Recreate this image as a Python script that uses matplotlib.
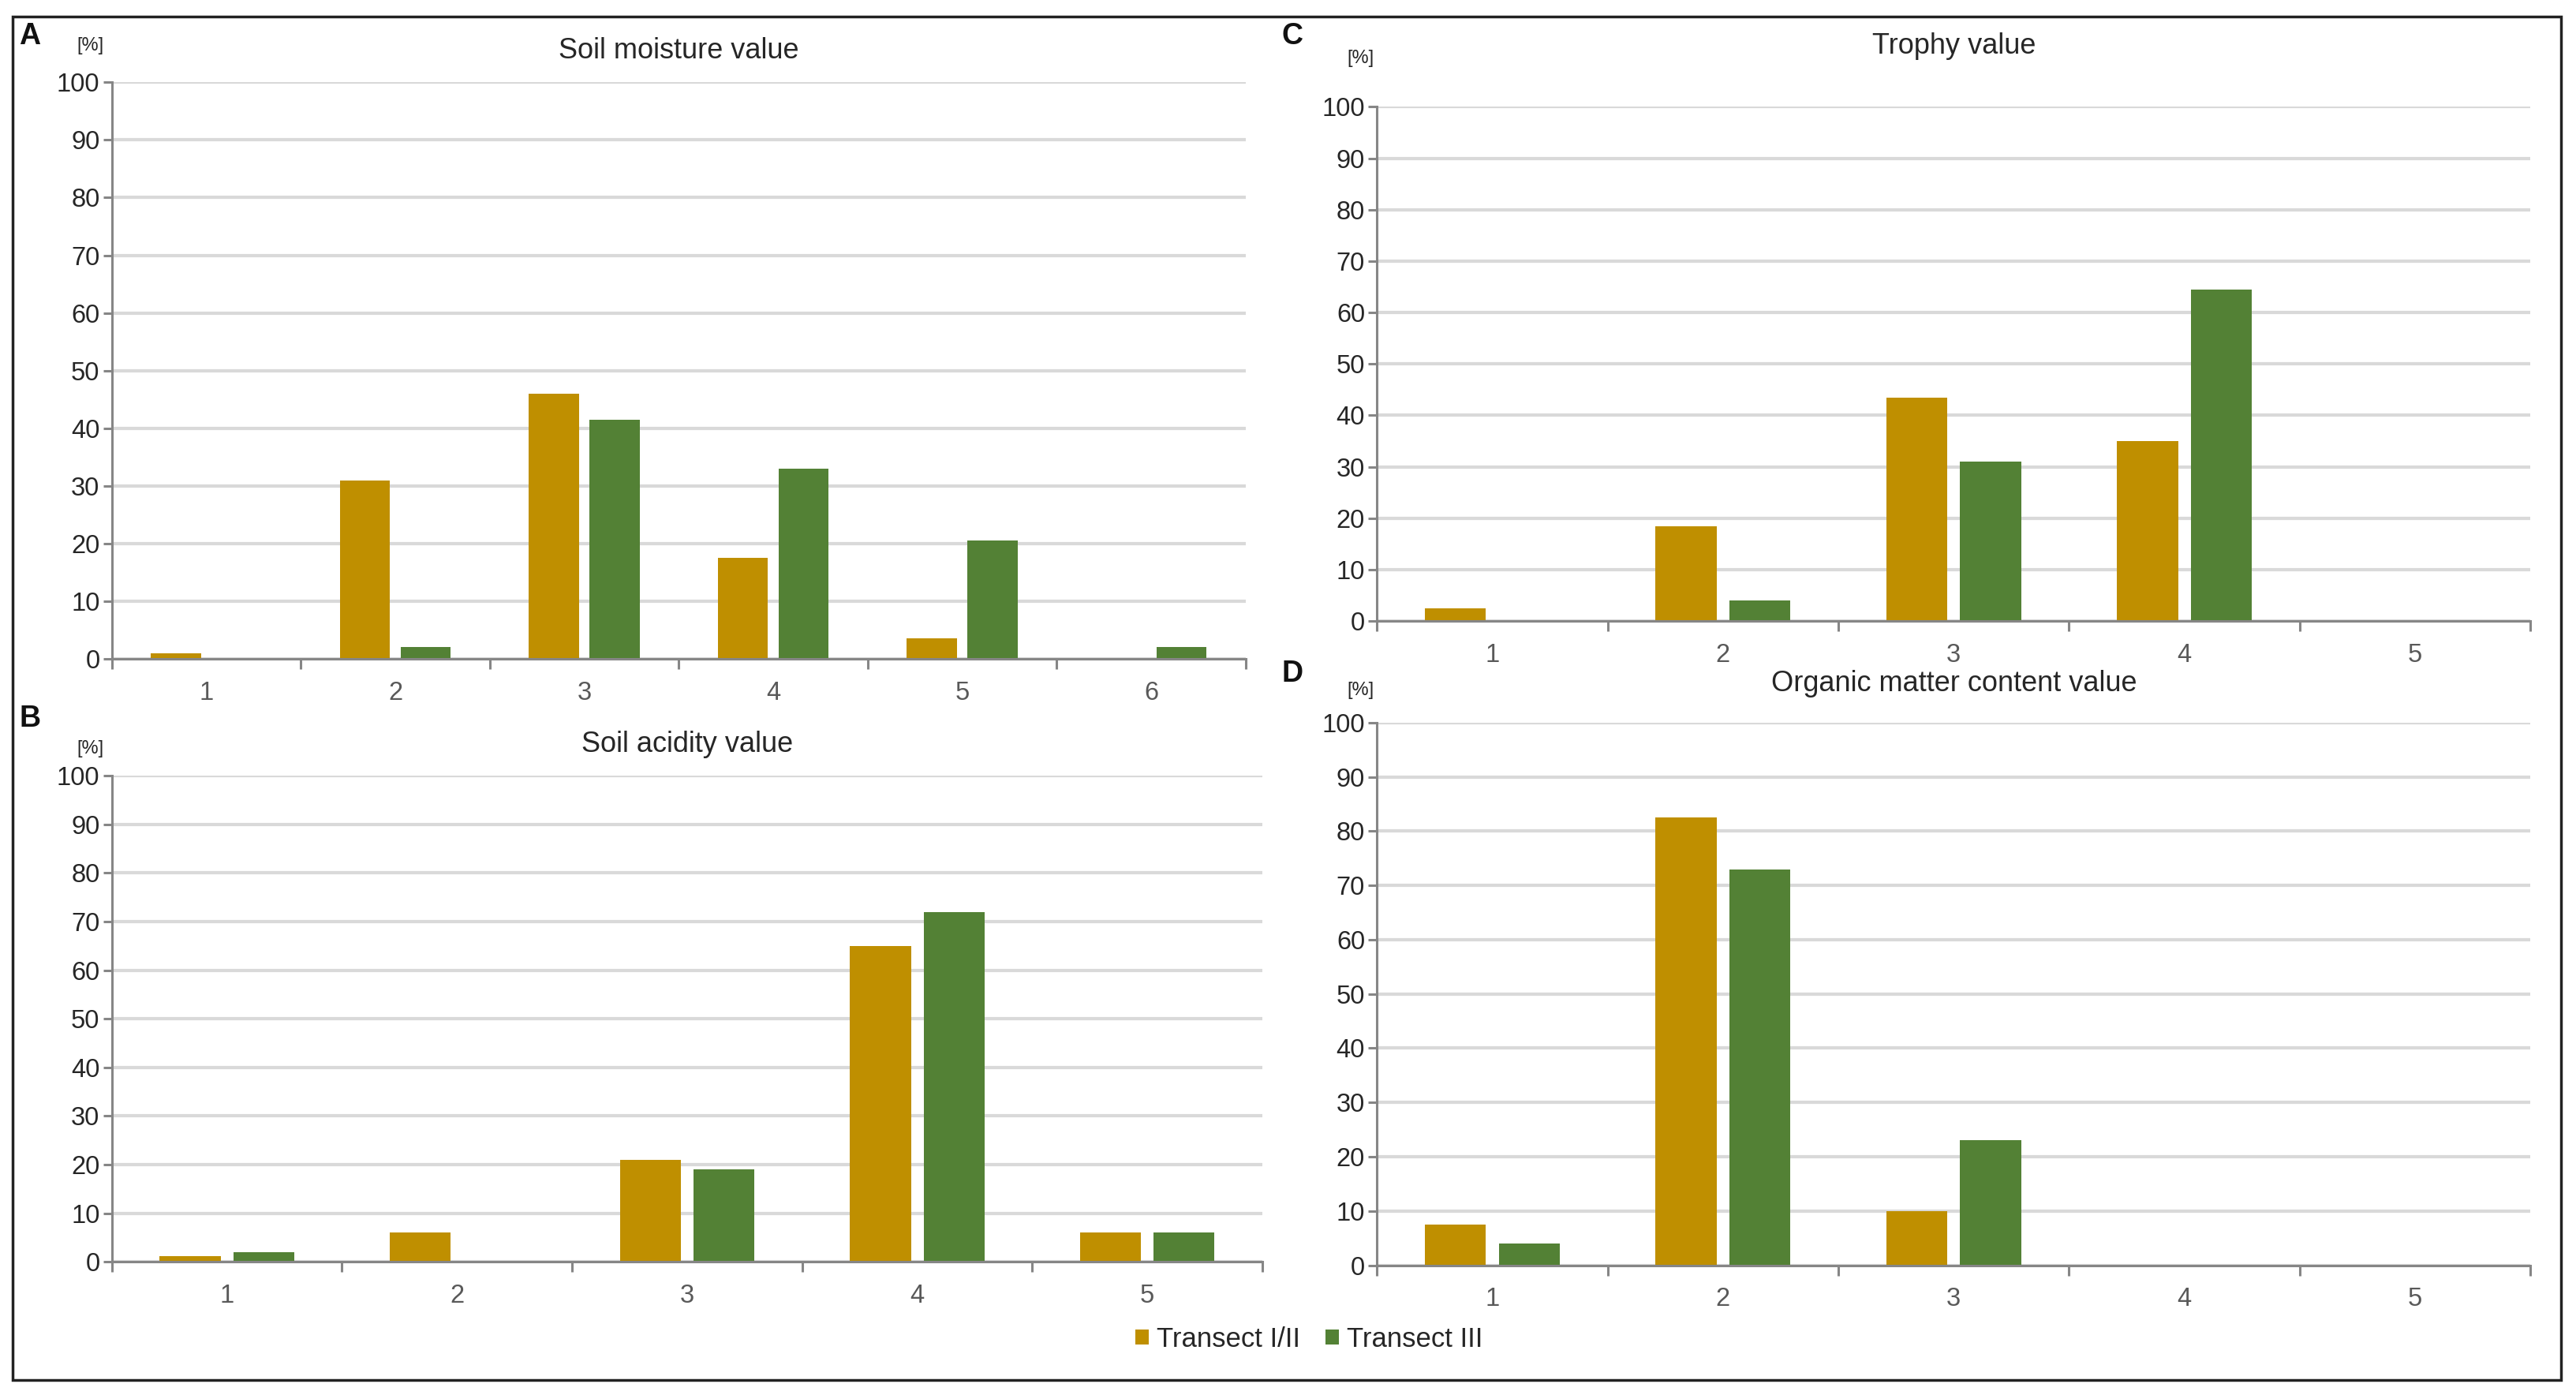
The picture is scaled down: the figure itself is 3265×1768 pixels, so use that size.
import matplotlib.pyplot as plt
from matplotlib.patches import Patch, Rectangle
import numpy as np

plt.rcParams['font.family'] = ['Liberation Sans', 'DejaVu Sans']

gold = '#BF8F00'
green = '#538135'
grid_col = '#D9D9D9'
axis_col = '#868686'

# panel data (percent of species per indicator value)
moist_cats = ['1', '2', '3', '4', '5', '6']
moist_t12 = [1.0, 31.0, 46.0, 17.5, 3.5, 0.0]
moist_t3 = [0.0, 2.0, 41.5, 33.0, 20.5, 2.0]

troph_cats = ['1', '2', '3', '4', '5']
troph_t12 = [2.5, 18.5, 43.5, 35.0, 0.0]
troph_t3 = [0.0, 4.0, 31.0, 64.5, 0.0]

acid_cats = ['1', '2', '3', '4', '5']
acid_t12 = [1.2, 6.0, 21.0, 65.0, 6.0]
acid_t3 = [2.0, 0.0, 19.0, 72.0, 6.0]

org_cats = ['1', '2', '3', '4', '5']
org_t12 = [7.5, 82.5, 10.0, 0.0, 0.0]
org_t3 = [4.0, 73.0, 23.0, 0.0, 0.0]

series_names = ['Transect I/II', 'Transect III']

fig = plt.figure(figsize=(32.66, 17.68), dpi=100)
fig.patches.append(Rectangle((0.005, 0.011), 0.989, 0.977, transform=fig.transFigure,
                             fill=False, edgecolor='#222222', linewidth=2.5))


def panel(rect, cats, v1, v2, title, letter, letter_xy, pct_xy, title_y):
    ax = fig.add_axes(rect)
    n = len(cats)
    x = np.arange(1, n + 1)
    w = 0.265
    ax.bar(x - 0.16, v1, width=w, color=gold, zorder=3)
    ax.bar(x + 0.16, v2, width=w, color=green, zorder=3)
    ax.set_xlim(0.5, n + 0.5)
    ax.set_ylim(0, 100)
    ax.set_yticks(np.arange(0, 101, 10))
    ax.yaxis.grid(True, color=grid_col, linewidth=3.0, zorder=0)
    ax.set_axisbelow(True)
    for s in ['top', 'right']:
        ax.spines[s].set_visible(False)
    for s in ['left', 'bottom']:
        ax.spines[s].set_color(axis_col)
        ax.spines[s].set_linewidth(2.2)
        ax.spines[s].set_zorder(4)
    ax.set_xticks(np.arange(0.5, n + 1, 1.0))
    ax.set_xticklabels([])
    ax.set_xticks(x, minor=True)
    ax.set_xticklabels(cats, minor=True)
    ax.tick_params(axis='x', which='major', length=9, width=2.2, color=axis_col, direction='out')
    ax.tick_params(axis='x', which='minor', length=0, pad=20, labelsize=23.5, labelcolor='#595959')
    ax.tick_params(axis='y', length=8, width=2.2, color=axis_col, pad=3, labelsize=23.5,
                   labelcolor='#262626')
    fig.text(rect[0] + rect[2] / 2, title_y, title, ha='center', va='center',
             fontsize=26, color='#262626')
    fig.text(letter_xy[0], letter_xy[1], letter, ha='left', va='center',
             fontsize=27, fontweight='bold', color='#111111')
    fig.text(pct_xy[0], pct_xy[1], '[%]', ha='center', va='center',
             fontsize=17, color='#262626')
    return ax


panel([0.0434, 0.5277, 0.440, 0.4133], moist_cats, moist_t12, moist_t3,
      'Soil moisture value', 'A', (0.0075, 0.974), (0.035, 0.967), 0.9635)
panel([0.5344, 0.5548, 0.4476, 0.3686], troph_cats, troph_t12, troph_t3,
      'Trophy value', 'C', (0.4975, 0.974), (0.528, 0.958), 0.967)
panel([0.0434, 0.0954, 0.4465, 0.3486], acid_cats, acid_t12, acid_t3,
      'Soil acidity value', 'B', (0.0075, 0.485), (0.035, 0.463), 0.4665)
panel([0.5344, 0.093, 0.4476, 0.389], org_cats, org_t12, org_t3,
      'Organic matter content value', 'D', (0.4975, 0.517), (0.528, 0.505), 0.51)

handles = [Patch(facecolor=gold, edgecolor='none'), Patch(facecolor=green, edgecolor='none')]
fig.legend(handles, series_names, loc='center', bbox_to_anchor=(0.508, 0.04), ncol=2,
           frameon=False, fontsize=25, handlelength=0.5, handleheight=0.5,
           handletextpad=0.3, columnspacing=0.9, labelcolor='#262626')

fig.savefig('out.png', dpi=100, facecolor='white')
